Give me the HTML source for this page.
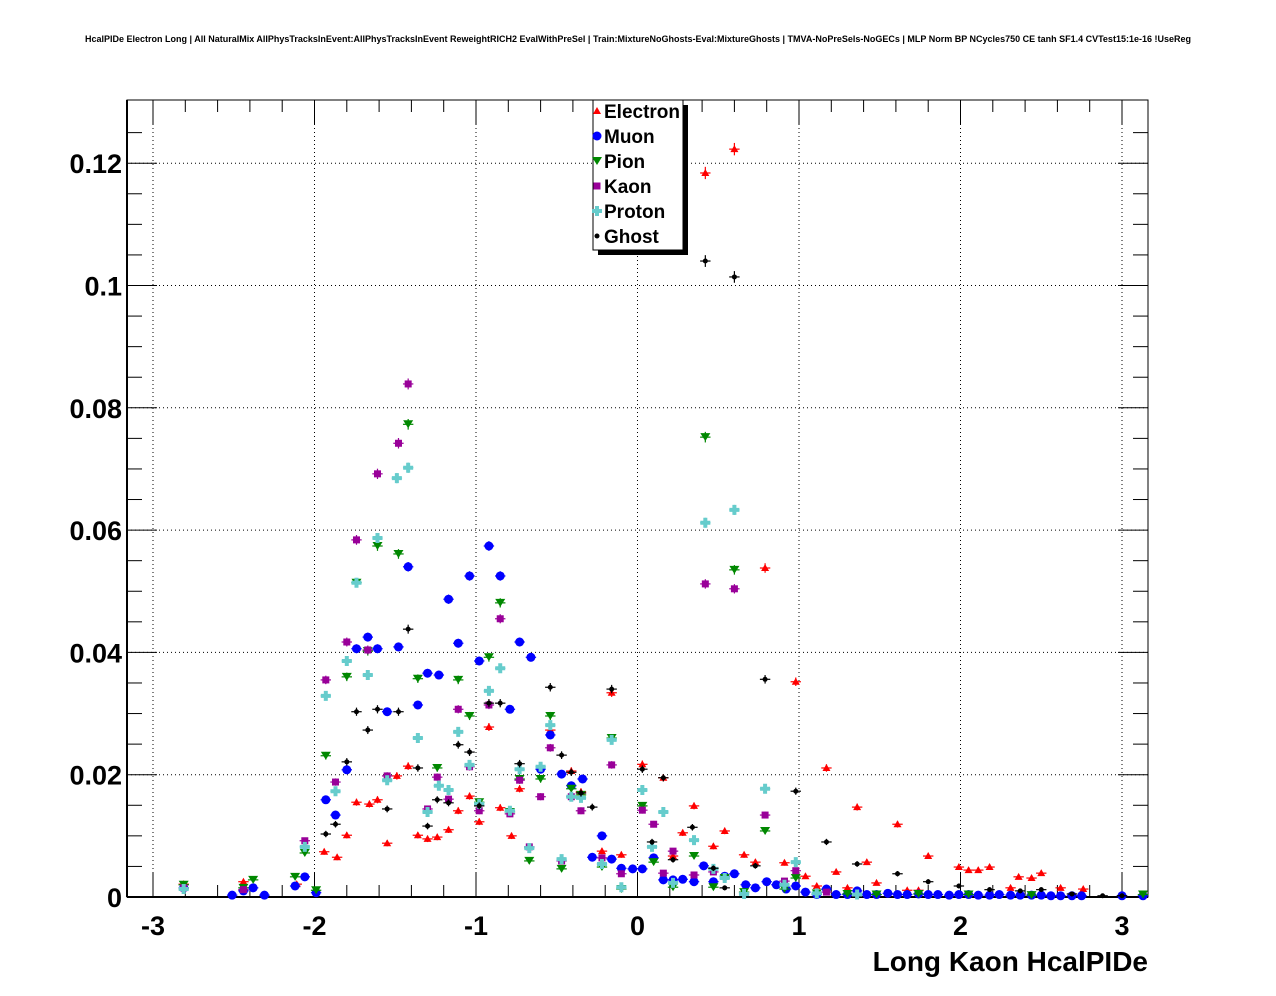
<!DOCTYPE html>
<html><head><meta charset="utf-8"><style>
html,body{margin:0;padding:0;background:#fff;}
svg{display:block;font-family:"Liberation Sans",sans-serif;}
</style></head><body>
<svg id="chart" width="1276" height="996" viewBox="0 0 1276 996">
<rect width="1276" height="996" fill="#fff"/>
<text x="638" y="42" text-anchor="middle" font-size="9" font-weight="bold">HcalPIDe Electron Long | All NaturalMix AllPhysTracksInEvent:AllPhysTracksInEvent ReweightRICH2 EvalWithPreSel | Train:MixtureNoGhosts-Eval:MixtureGhosts | TMVA-NoPreSels-NoGECs | MLP Norm BP NCycles750 CE tanh SF1.4 CVTest15:1e-16 !UseReg</text>
<g id="grid"></g>
<g id="axes"></g>
<g id="marks"></g>
<text x="1148" y="971" text-anchor="end" font-size="28" font-weight="bold">Long Kaon HcalPIDe</text>
<g id="legend"></g>
</svg>
<script>
const xTicks = [-3,-2,-1,0,1,2,3];
const yTicks = [0,0.02,0.04,0.06,0.08,0.1,0.12];
const yTickLabels = ["0","0.02","0.04","0.06","0.08","0.1","0.12"];
const seriesNames = ["Electron","Muon","Pion","Kaon","Proton","Ghost"];
const electron = [[-2.81,.0021],[-2.44,.0025],[-2.11,.0021],[-1.94,.0074],[-1.86,.0065],[-1.80,.0101],[-1.74,.0155],[-1.66,.0152],[-1.61,.0159],[-1.55,.0088],[-1.49,.0198],[-1.42,.0214],[-1.36,.0101],[-1.30,.0095],[-1.24,.0098],[-1.17,.0110],[-1.11,.0141],[-1.04,.0165],[-0.98,.0123],[-0.92,.0278],[-0.85,.0146],[-0.78,.0100],[-0.73,.0177],[-0.54,.0273],[-0.41,.0206],[-0.35,.0172],[-0.22,.0075],[-0.16,.0334],[-0.10,.0069],[0.03,.0217],[0.16,.0195],[0.22,.0067],[0.28,.0105],[0.35,.0149],[0.42,.1184],[0.47,.0083],[0.54,.0108],[0.60,.1223],[0.66,.0069],[0.73,.0057],[0.79,.0538],[0.91,.0056],[0.98,.0352],[1.04,.0034],[1.11,.0018],[1.17,.0211],[1.23,.0041],[1.30,.0015],[1.36,.0147],[1.42,.0057],[1.48,.0023],[1.61,.0119],[1.67,.0011],[1.74,.0011],[1.80,.0067],[1.99,.0049],[2.05,.0044],[2.11,.0044],[2.18,.0049],[2.31,.0015],[2.36,.0033],[2.44,.0031],[2.50,.0039],[2.62,.0015],[2.76,.0013]];
const muon = [[-2.81,.0015],[-2.51,.0003],[-2.44,.0010],[-2.38,.0015],[-2.31,.0003],[-2.12,.0018],[-2.06,.0033],[-1.99,.0007],[-1.93,.0159],[-1.87,.0134],[-1.80,.0208],[-1.74,.0406],[-1.67,.0425],[-1.61,.0406],[-1.55,.0303],[-1.48,.0409],[-1.42,.0540],[-1.36,.0314],[-1.30,.0366],[-1.23,.0363],[-1.17,.0487],[-1.11,.0415],[-1.04,.0525],[-0.98,.0386],[-0.92,.0574],[-0.85,.0525],[-0.79,.0307],[-0.73,.0417],[-0.66,.0392],[-0.60,.0209],[-0.54,.0265],[-0.47,.0201],[-0.41,.0182],[-0.34,.0193],[-0.28,.0065],[-0.22,.0100],[-0.16,.0062],[-0.10,.0047],[-0.03,.0046],[0.03,.0046],[0.10,.0064],[0.16,.0028],[0.22,.0028],[0.28,.0029],[0.35,.0025],[0.41,.0051],[0.47,.0025],[0.54,.0034],[0.60,.0038],[0.67,.0020],[0.73,.0015],[0.80,.0025],[0.86,.0020],[0.92,.0013],[0.98,.0018],[1.04,.0008],[1.11,.0004],[1.17,.0013],[1.23,.0004],[1.30,.0004],[1.36,.0010],[1.42,.0004],[1.48,.0004],[1.55,.0006],[1.61,.0004],[1.67,.0004],[1.74,.0005],[1.80,.0004],[1.86,.0004],[1.93,.0003],[1.99,.0004],[2.05,.0004],[2.11,.0003],[2.18,.0003],[2.24,.0004],[2.31,.0003],[2.37,.0003],[2.44,.0003],[2.50,.0003],[2.56,.0002],[2.62,.0002],[2.69,.0002],[2.75,.0002],[3.00,.0002],[3.13,.0002]];
const pion = [[-2.81,.0020],[-2.44,.0015],[-2.38,.0028],[-2.12,.0033],[-2.06,.0072],[-1.99,.0011],[-1.93,.0231],[-1.80,.0360],[-1.74,.0514],[-1.67,.0402],[-1.61,.0574],[-1.48,.0561],[-1.42,.0773],[-1.36,.0357],[-1.24,.0211],[-1.11,.0355],[-1.04,.0296],[-0.98,.0155],[-0.92,.0392],[-0.85,.0481],[-0.79,.0139],[-0.73,.0193],[-0.67,.0059],[-0.60,.0193],[-0.54,.0296],[-0.47,.0046],[-0.41,.0177],[-0.35,.0167],[-0.22,.0049],[-0.16,.0260],[-0.10,.0013],[0.03,.0149],[0.10,.0057],[0.22,.0016],[0.35,.0067],[0.42,.0752],[0.47,.0016],[0.54,.0031],[0.60,.0535],[0.66,.0008],[0.79,.0108],[0.91,.0013],[0.98,.0031],[1.11,.0006],[1.30,.0005],[1.48,.0004],[1.74,.0005],[2.05,.0004],[2.44,.0003],[3.13,.0004]];
const kaon = [[-2.81,.0015],[-2.44,.0012],[-2.06,.0092],[-1.93,.0355],[-1.87,.0188],[-1.80,.0417],[-1.74,.0584],[-1.67,.0404],[-1.61,.0692],[-1.55,.0198],[-1.48,.0742],[-1.42,.0839],[-1.30,.0144],[-1.24,.0196],[-1.17,.0160],[-1.11,.0307],[-1.04,.0213],[-0.98,.0141],[-0.92,.0314],[-0.85,.0455],[-0.79,.0136],[-0.73,.0191],[-0.67,.0082],[-0.60,.0164],[-0.54,.0244],[-0.47,.0059],[-0.41,.0164],[-0.35,.0141],[-0.22,.0064],[-0.16,.0216],[-0.10,.0038],[0.03,.0142],[0.10,.0119],[0.16,.0039],[0.22,.0075],[0.35,.0036],[0.42,.0512],[0.47,.0041],[0.60,.0504],[0.79,.0134],[0.91,.0026],[0.98,.0043],[1.17,.0008]];
const proton = [[-2.81,.0013],[-2.06,.0082],[-1.93,.0329],[-1.87,.0173],[-1.80,.0386],[-1.74,.0514],[-1.67,.0363],[-1.61,.0587],[-1.55,.0191],[-1.49,.0685],[-1.42,.0702],[-1.36,.0260],[-1.30,.0139],[-1.23,.0182],[-1.17,.0175],[-1.11,.0270],[-1.04,.0216],[-0.98,.0152],[-0.92,.0337],[-0.85,.0374],[-0.79,.0141],[-0.73,.0209],[-0.67,.0080],[-0.60,.0213],[-0.54,.0281],[-0.47,.0062],[-0.41,.0164],[-0.35,.0162],[-0.22,.0054],[-0.16,.0257],[-0.10,.0016],[0.03,.0175],[0.09,.0082],[0.16,.0139],[0.22,.0023],[0.35,.0093],[0.42,.0612],[0.47,.0046],[0.54,.0031],[0.60,.0633],[0.66,.0005],[0.79,.0177],[0.91,.0020],[0.98,.0057],[1.11,.0006],[1.36,.0004]];
const ghost = [[-1.93,.0103],[-1.87,.0119],[-1.80,.0221],[-1.74,.0303],[-1.67,.0273],[-1.61,.0307],[-1.55,.0144],[-1.48,.0303],[-1.42,.0438],[-1.36,.0211],[-1.30,.0116],[-1.24,.0159],[-1.17,.0154],[-1.11,.0249],[-1.04,.0237],[-0.98,.0149],[-0.92,.0317],[-0.85,.0317],[-0.73,.0218],[-0.54,.0343],[-0.47,.0232],[-0.41,.0204],[-0.35,.0170],[-0.28,.0147],[-0.16,.0340],[0.03,.0209],[0.09,.0090],[0.16,.0195],[0.22,.0061],[0.34,.0114],[0.42,.1040],[0.47,.0047],[0.54,.0015],[0.60,.1014],[0.73,.0051],[0.79,.0356],[0.98,.0173],[1.17,.0090],[1.36,.0054],[1.61,.0038],[1.80,.0025],[1.99,.0018],[2.18,.0012],[2.37,.0010],[2.50,.0012],[2.69,.0005],[2.88,.0002],[3.00,.0002]];

const NS="http://www.w3.org/2000/svg";
const L=127,R=1148,T=100,B=897;
function sx(v){return 637.5+v*161.5;}
function sy(v){return 897-v*6115;}
function mk(tag,attrs,parent){const e=document.createElementNS(NS,tag);for(const k in attrs)e.setAttribute(k,attrs[k]);parent.appendChild(e);return e;}
const grid=document.getElementById('grid'),axes=document.getElementById('axes'),marks=document.getElementById('marks'),legend=document.getElementById('legend');

xTicks.forEach(v=>{const g=mk('line',{x1:sx(v),x2:sx(v),y1:T,y2:B,stroke:'#000','stroke-width':1,'stroke-dasharray':'1,3'},grid);

});
yTicks.slice(1).forEach(v=>{const g=mk('line',{x1:L,x2:R,y1:sy(v),y2:sy(v),stroke:'#000','stroke-width':1,'stroke-dasharray':'1,3'},grid);

});

const fr=mk('rect',{x:L,y:T,width:R-L,height:B-T,fill:'none',stroke:'#000','stroke-width':1},axes);


mk('line',{x1:L,x2:R,y1:B,y2:B,stroke:'#000','stroke-width':2},axes);
mk('line',{x1:L,x2:L,y1:T,y2:B,stroke:'#000','stroke-width':2},axes);

for(let v=-3.2;v<=3.21;v+=0.2){const r=Math.round(v*10)/10;const major=Math.abs(r-Math.round(r))<1e-6;const len=major?24:12;const px=sx(r);if(px<L||px>R)continue;
mk('line',{x1:px,x2:px,y1:B,y2:B-len,stroke:'#000','stroke-width':1},axes);
mk('line',{x1:px,x2:px,y1:T,y2:T+len,stroke:'#000','stroke-width':1},axes);}
xTicks.forEach(v=>{const t=mk('text',{x:sx(v),y:935,'text-anchor':'middle','font-size':27,'font-weight':'bold'},axes);t.textContent=(v<0?'-':'')+Math.abs(v);

});
for(let v=0;v<=0.13;v+=0.005){const py=sy(v);if(py<T)break;const major=Math.abs(v/0.02-Math.round(v/0.02))<1e-6;const len=major?30:15;
mk('line',{x1:L,x2:L+len,y1:py,y2:py,stroke:'#000','stroke-width':1},axes);
mk('line',{x1:R,x2:R-len,y1:py,y2:py,stroke:'#000','stroke-width':1},axes);}
yTicks.forEach((v,i)=>{const t=mk('text',{x:122,y:sy(v)+10,'text-anchor':'end','font-size':27,'font-weight':'bold'},axes);t.textContent=yTickLabels[i];

});

const styles={Electron:{c:'#ff0000',s:'tri'},Muon:{c:'#0000ff',s:'circ'},Pion:{c:'#008800',s:'tridn'},Kaon:{c:'#990099',s:'sq'},Proton:{c:'#66cccc',s:'cross'},Ghost:{c:'#000000',s:'dot'}};
function marker(g,shape,c,x,y){
 if(shape==='tri')mk('polygon',{points:`${x},${y-4} ${x-4},${y+3} ${x+4},${y+3}`,fill:c},g);
 else if(shape==='tridn')mk('polygon',{points:`${x-5},${y-4} ${x+5},${y-4} ${x},${y+4}`,fill:c},g);
 else if(shape==='circ')mk('circle',{cx:x,cy:y,r:4.5,fill:c},g);
 else if(shape==='sq')mk('rect',{x:x-3.5,y:y-3.5,width:7,height:7,fill:c},g);
 else if(shape==='cross')mk('path',{d:`M${x-5},${y-2}h3v-3h4v3h3v4h-3v3h-4v-3h-3z`,fill:c},g);
 else mk('circle',{cx:x,cy:y,r:2.5,fill:c},g);
}
const allSeries=[electron,muon,pion,kaon,proton,ghost];
allSeries.forEach((data,si)=>{const name=seriesNames[si];const st=styles[name];
 const g=mk('g',{},marks);
 
 
 data.forEach(p=>{const x=sx(p[0]),y=sy(p[1]);const ey=2+Math.sqrt(p[1])*12;
  const pg=mk('g',{},g);
  
  
  mk('line',{x1:x-5.2,x2:x+5.2,y1:y,y2:y,stroke:st.c,'stroke-width':1.2},pg);
  mk('line',{x1:x,x2:x,y1:y-ey,y2:Math.min(B,y+ey),stroke:st.c,'stroke-width':1.2},pg);
  marker(pg,st.s,st.c,x,y);
 });
});

mk('rect',{x:598,y:105,width:90,height:150,fill:'#000'},legend);
const lb=mk('rect',{x:593,y:100,width:90,height:150,fill:'#fff',stroke:'#000','stroke-width':1},legend);


seriesNames.forEach((n,i)=>{const y=111+i*25;const st=styles[n];
 const eg=mk('g',{},legend);
 
 
 marker(eg,st.s,st.c,597,y);
 const t=mk('text',{x:604,y:y+7,'font-size':19,'font-weight':'bold'},eg);t.textContent=n;});
</script>
</body></html>
